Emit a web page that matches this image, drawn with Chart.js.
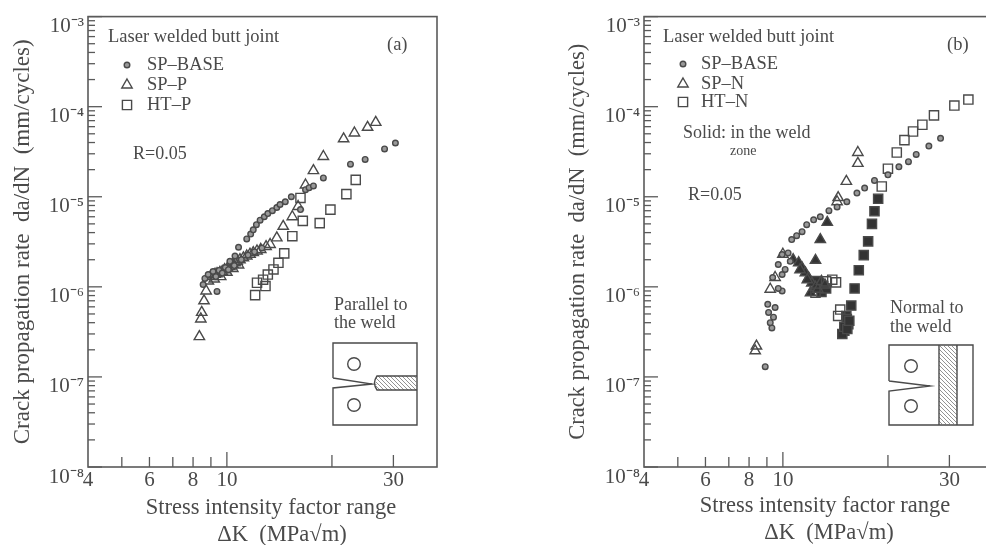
<!DOCTYPE html>
<html><head><meta charset="utf-8">
<script src="https://cdn.jsdelivr.net/npm/chart.js@4/dist/chart.umd.js"></script>
<style>
html,body{margin:0;padding:0;background:#fff;overflow:hidden;width:986px;height:545px}
canvas{position:absolute;top:0;filter:blur(0.75px)}
#a{left:0}#b{left:556px}
</style></head><body>
<canvas id="a" width="493" height="545"></canvas>
<canvas id="b" width="493" height="545"></canvas>
<script>
// --- Axis ticks
const xTickValues=[4,5,6,7,8,9,10,20,30,40];
const xTickLabels={4:'4',6:'6',8:'8',10:'10',30:'30'};
const yDecades=[1e-3,1e-4,1e-5,1e-6,1e-7,1e-8];
const yDecadeLabels=['10⁻³','10⁻⁴','10⁻⁵','10⁻⁶','10⁻⁷','10⁻⁸'];
const yMinorMultipliers=[2,3,4,5,6,7,8,9];

// --- Panel (a): Parallel to the weld
const baseAX=[8.55,8.65,8.84,9.13,9.37,9.5,9.9,10.2,10.55,10.8,11.4,11.7,11.9,12.15,12.45,12.8,13.1,13.5,13.9,14.2,14.7,15.3,16.25,16.8,17.2,17.7,18.9,22.6,24.9,28.3,30.4,9.3,9.7,10.1,10.5,11,11.5,12,12.6];
const baseAY=[1.06e-6,1.24e-6,1.37e-6,1.48e-6,8.9e-7,1.52e-6,1.64e-6,1.92e-6,2.2e-6,2.75e-6,3.4e-6,3.85e-6,4.3e-6,4.9e-6,5.5e-6,6e-6,6.5e-6,7e-6,7.6e-6,8.2e-6,8.8e-6,1e-5,7.2e-6,1.2e-5,1.26e-5,1.32e-5,1.62e-5,2.3e-5,2.6e-5,3.4e-5,3.95e-5,1.3e-6,1.42e-6,1.55e-6,1.72e-6,2e-6,2.25e-6,2.45e-6,2.7e-6];
const spPX=[8.34,8.42,8.47,8.6,8.72,8.85,9.07,9.37,9.7,10.2,10.56,10.9,11.4,11.9,12.5,12.95,13.3,13.9,14.5,15.4,16,16.8,17.7,18.9,21.6,23.2,25.3,26.7,9,9.25,9.55,9.85,10.05,10.4,10.7,11.15,11.65,12.2,9.2,9.6,10,10.4,10.8];
const spPY=[2.8e-7,4.4e-7,5.2e-7,7e-7,9e-7,1.16e-6,1.3e-6,1.4e-6,1.48e-6,1.68e-6,1.85e-6,2e-6,2.2e-6,2.4e-6,2.6e-6,2.8e-6,2.95e-6,3.5e-6,4.7e-6,6e-6,7.8e-6,1.35e-5,1.95e-5,2.8e-5,4.4e-5,5.1e-5,5.9e-5,6.7e-5,1.32e-6,1.38e-6,1.45e-6,1.55e-6,1.62e-6,1.78e-6,1.92e-6,2.1e-6,2.3e-6,2.5e-6,1.22e-6,1.3e-6,1.45e-6,1.6e-6,1.75e-6];
const htPX=[12.05,12.2,12.9,12.7,13.1,13.6,14.05,14.6,15.4,16.5,16.25,18.45,19.8,22,23.4];
const htPY=[8.1e-7,1.11e-6,1.02e-6,1.2e-6,1.37e-6,1.56e-6,1.85e-6,2.35e-6,3.65e-6,5.4e-6,9.7e-6,5.1e-6,7.2e-6,1.07e-5,1.54e-5];

// --- Panel (b): Normal to the weld
const baseBX=[8.9,9.3,9.2,9.4,9.1,9.5,9.05,9.95,9.7,9.35,9.95,10.15,9.7,10.5,9.95,10.35,10.6,10.95,11.35,11.7,12.25,12.8,13.55,14.3,15.25,16.3,17.15,18.3,20,21.5,22.9,24.1,26.2,28.3];
const baseBY=[1.3e-7,3.5e-7,4e-7,4.6e-7,5.2e-7,5.9e-7,6.4e-7,9e-7,9.6e-7,1.27e-6,1.37e-6,1.56e-6,1.77e-6,1.92e-6,2.28e-6,2.38e-6,3.35e-6,3.7e-6,4.1e-6,4.9e-6,5.55e-6,6e-6,7e-6,7.7e-6,8.8e-6,1.1e-5,1.25e-5,1.52e-5,1.75e-5,2.15e-5,2.45e-5,2.95e-5,3.65e-5,4.45e-5];
const spNX=[8.33,8.4,9.2,9.5,10,14.3,14.4,15.2,16.4,16.4];
const spNY=[1.95e-7,2.2e-7,9.4e-7,1.27e-6,2.3e-6,8.8e-6,9.8e-6,1.48e-5,2.35e-5,3.1e-5];
const spNSolidX=[13.4,12.8,12.4,10.7,11.1,11.35,11.6,11.85,12.1,12,12.4,12.6,11.2,11.75,12.9,13.2];
const spNSolidY=[5.2e-6,3.35e-6,1.97e-6,2e-6,1.85e-6,1.62e-6,1.43e-6,1.26e-6,1.1e-6,8.6e-7,9.9e-7,9.4e-7,1.55e-6,1.2e-6,1.15e-6,1.05e-6];
const htNX=[14.6,14.4,12.4,13.85,14.2,13.3,19.2,20,21.2,22.3,23.6,25.1,27.1,31,34];
const htNY=[5.6e-7,4.75e-7,8.6e-7,1.2e-6,1.12e-6,1.15e-6,1.3e-5,2.05e-5,3.1e-5,4.25e-5,5.3e-5,6.3e-5,8e-5,1.03e-4,1.2e-4];
const htNSolidX=[18.75,18.3,18,17.55,17.05,16.5,16.05,15.7,15.2,15.4,15,14.8,15.25,12.65,13.05,12.4,12.9,13.3,15,15.3,15.5];
const htNSolidY=[9.5e-6,6.9e-6,5e-6,3.2e-6,2.25e-6,1.53e-6,9.6e-7,6.2e-7,4.75e-7,3.85e-7,3.25e-7,3e-7,4.4e-7,1.06e-6,1.02e-6,1.16e-6,8.8e-7,9.6e-7,3.6e-7,3.4e-7,4.2e-7];

const ink='#4a4a4a';
const serif='"Liberation Serif", serif';
const zip=(xs,ys)=>xs.map((x,i)=>({x,y:ys[i]}));
const series=(label,xs,ys,style,radius,fill,inLegend)=>({label,data:zip(xs,ys),showLine:false,pointStyle:style,pointRadius:radius,pointHoverRadius:radius,
  pointBackgroundColor:fill,pointBorderColor:ink,pointBorderWidth:1.4,inLegend});

function hatch(c,x0,y0,x1,y1){c.save();c.beginPath();c.rect(x0,y0,x1-x0,y1-y0);c.clip();c.lineWidth=.8;c.strokeStyle='#777';
  for(let d=-(y1-y0);d<x1-x0+(y1-y0);d+=4){c.beginPath();c.moveTo(x0+d,y0);c.lineTo(x0+d+(y1-y0),y1);c.stroke();}c.restore();}

const panels={
 a:{sets:[series('SP–BASE',baseAX,baseAY,'circle',2.8,'#999',true),series('SP–P',spPX,spPY,'triangle',6,'rgba(0,0,0,0)',true),series('HT–P',htPX,htPY,'rect',6.5,'rgba(0,0,0,0)',true)],
  legendX:127,legendTextX:147,legendY:[65,85,105],yTitleSize:23,
  texts:[['Laser welded butt joint',108,37,18.5],['(a)',387,45,18.5],['R=0.05',133,154,18],['Parallel to',334,305,18],['the weld',334,323,18]],
  xTitle:[271,282],xTitleY:[508,535],
  inset(c){
    c.beginPath();c.moveTo(333,378);c.lineTo(333,343);c.lineTo(417,343);c.lineTo(417,425);c.lineTo(333,425);c.lineTo(333,388);c.lineTo(372,384);c.lineTo(333,378);c.stroke();
    hatch(c,376,376,417,390);
    c.beginPath();c.moveTo(417,376);c.lineTo(377,376);c.quadraticCurveTo(372,383,377,390);c.lineTo(417,390);c.stroke();
    c.beginPath();c.arc(354,364,6.3,0,7);c.stroke();c.beginPath();c.arc(354,405,6.3,0,7);c.stroke();}},
 b:{sets:[series('SP–BASE',baseBX,baseBY,'circle',2.8,'#999',true),series('SP–N',spNX,spNY,'triangle',6,'rgba(0,0,0,0)',true),series('HT–N',htNX,htNY,'rect',6.5,'rgba(0,0,0,0)',true),
    series('SP–N weld',spNSolidX,spNSolidY,'triangle',6,'#333',false),series('HT–N weld',htNSolidX,htNSolidY,'rect',6.5,'#333',false)],
  legendX:127,legendTextX:145,legendY:[64,84,102],yTitleSize:22.5,
  texts:[['Laser welded butt joint',107,37,18.5],['(b)',391,45,18.5],['Solid: in the weld',127,133,18],['zone',174,151,14],['R=0.05',132,195,18],['Normal to',334,308,18],['the weld',334,327,18]],
  xTitle:[269,273],xTitleY:[506,533],
  inset(c){
    c.beginPath();c.moveTo(333,381);c.lineTo(333,345);c.lineTo(417,345);c.lineTo(417,425);c.lineTo(333,425);c.lineTo(333,391);c.lineTo(374,386);c.lineTo(333,381);c.stroke();
    hatch(c,383,345,401,425);
    c.beginPath();c.moveTo(383,345);c.lineTo(383,425);c.moveTo(401,345);c.lineTo(401,425);c.stroke();
    c.beginPath();c.arc(355,366,6.3,0,7);c.stroke();c.beginPath();c.arc(355,406,6.3,0,7);c.stroke();}}
};

const dressing={id:'dressing',
 beforeDatasetsDraw(chart){
  const c=chart.ctx,{left,right,top,bottom}=chart.chartArea,X=chart.scales.x,Y=chart.scales.y;
  c.save();c.strokeStyle='#5a5a5a';c.lineWidth=1.6;c.strokeRect(left,top,right-left,bottom-top);
  c.lineWidth=1.3;
  X.ticks.forEach(t=>{const px=X.getPixelForValue(t.value);const len=t.value===10?15:(t.value>=20?12:10);if(t.value===4||t.value===40)return;
    c.beginPath();c.moveTo(px,bottom);c.lineTo(px,bottom-len);c.stroke();});
  Y.ticks.forEach(t=>{const py=Y.getPixelForValue(t.value);const len=yDecades.includes(t.value)?14:7;
    c.beginPath();c.moveTo(left,py);c.lineTo(left+len,py);c.stroke();});
  c.restore();
 },
 afterDraw(chart){
  const c=chart.ctx,p=panels[chart.canvas.id];
  c.save();c.fillStyle=ink;c.textBaseline='middle';c.textAlign='left';
  p.texts.forEach(([t,x,y,s])=>{c.font=s+'px '+serif;c.fillText(t,x,y);});
  c.font='18.5px '+serif;
  chart.data.datasets.filter(d=>d.inLegend).forEach((d,i)=>{
    c.fillStyle=ink;c.fillText(d.label,p.legendTextX,p.legendY[i]);
    c.strokeStyle=ink;c.lineWidth=1.4;c.fillStyle=d.pointBackgroundColor;
    Chart.helpers.drawPoint(c,{pointStyle:d.pointStyle,radius:d.pointRadius,borderWidth:1.4,rotation:0},p.legendX,p.legendY[i]);
  });
  c.fillStyle=ink;c.textAlign='center';c.font='22.5px '+serif;
  c.fillText('Stress intensity factor range',p.xTitle[0],p.xTitleY[0]);
  c.fillText('ΔK  (MPa√m)',p.xTitle[1],p.xTitleY[1]);
  c.strokeStyle=ink;c.lineWidth=1.4;p.inset(c);
  c.restore();
 }};

function build(id){
 const p=panels[id];
 return new Chart(document.getElementById(id),{type:'scatter',data:{datasets:p.sets},plugins:[dressing],
  options:{responsive:false,animation:false,
   layout:{autoPadding:false,padding:{left:0,top:15,right:56,bottom:0}},
   plugins:{legend:{display:false},tooltip:{enabled:false}},
   scales:{
    x:{type:'logarithmic',min:4,max:40,grid:{display:false,drawTicks:false},border:{display:false},
      afterFit(s){s.height=78;},
      afterBuildTicks(s){s.ticks=xTickValues.map(v=>({value:v}));},
      ticks:{autoSkip:false,maxRotation:0,minRotation:0,padding:1,color:ink,font:{family:serif,size:21},callback:v=>xTickLabels[v]||''}},
    y:{type:'logarithmic',min:1e-8,max:1e-3,grid:{display:false,drawTicks:false},border:{display:false},
      afterFit(s){s.width=88;},
      afterBuildTicks(s){const out=[];yDecades.forEach(d=>{out.push({value:d});if(d>1e-8)yMinorMultipliers.forEach(m=>{const v=d/10*m;out.push({value:v});});});s.ticks=out;},
      title:{display:true,text:'Crack propagation rate  da/dN  (mm/cycles)',color:ink,font:{family:serif,size:p.yTitleSize},padding:{top:9,bottom:0}},
      ticks:{autoSkip:false,padding:4,labelOffset:10,color:ink,font:{family:serif,size:21},callback:v=>{const i=yDecades.indexOf(v);return i>=0?yDecadeLabels[i]:'';}}}
   }}});
}
build('a');build('b');
</script></body></html>
